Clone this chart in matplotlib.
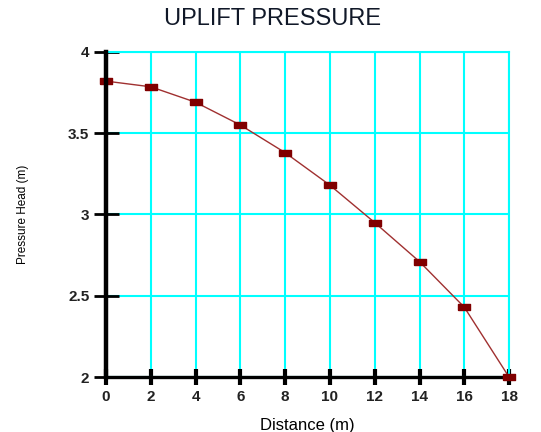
import numpy as np
import matplotlib.pyplot as plt

# Data
distance = [0, 2, 4, 6, 8, 10, 12, 14, 16, 18]
pressure_head = [3.82, 3.785, 3.69, 3.55, 3.38, 3.18, 2.95, 2.71, 2.43, 2.0]

xticks = [0, 2, 4, 6, 8, 10, 12, 14, 16, 18]
yticks = [2, 2.5, 3, 3.5, 4]

plt.rcParams['font.family'] = ['Liberation Sans', 'DejaVu Sans']

fig = plt.figure(figsize=(5.41, 4.32), dpi=100)
ax = fig.add_axes([0.196, 0.127, 0.745, 0.753])

# rectangular marker, wider than tall
rect = [(-1.8, -1), (1.8, -1), (1.8, 1), (-1.8, 1), (-1.8, -1)]
ax.plot(distance, pressure_head, color="#a03030", lw=1.0, marker=rect,
        markersize=8, markerfacecolor="#800000", markeredgecolor="#800000",
        zorder=5, clip_on=False)

ax.set_xlim(0, 18)
ax.set_ylim(2, 4)
ax.set_xticks(xticks)
ax.set_yticks(yticks)
ax.set_yticklabels(["2", "2.5", "3", "3.5", "4"])

ax.grid(True, color="#00ffff", lw=1.5)
ax.set_axisbelow(True)

for s in ["top", "right"]:
    ax.spines[s].set_color("#00ffff")
    ax.spines[s].set_linewidth(1.5)
ax.spines["left"].set_linewidth(3.2)
ax.spines["bottom"].set_linewidth(2.4)
ax.spines["left"].set_zorder(6)

ax.tick_params(axis="x", direction="inout", length=11, width=3, pad=4,
               labelsize=11)
ax.tick_params(axis="y", direction="inout", length=18, width=2, pad=3,
               labelsize=11)
for lab in ax.get_xticklabels() + ax.get_yticklabels():
    lab.set_fontweight("bold")
    lab.set_color("#222222")

fig.text(0.503, 0.955, "UPLIFT PRESSURE", ha="center", va="center",
         fontsize=17, color="#101828")
ax.set_xlabel("Distance (m)", fontsize=12, labelpad=10)
ax.set_ylabel("Pressure Head (m)", fontsize=8.5, labelpad=28)

fig.savefig("out.png", dpi=100)
